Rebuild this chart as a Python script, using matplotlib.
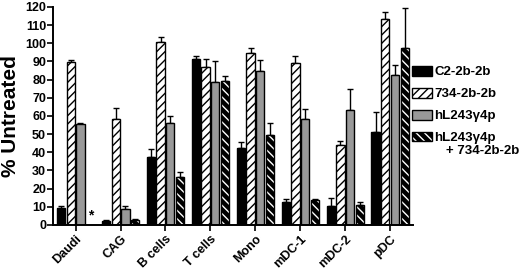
import numpy as np
import matplotlib.pyplot as plt
import matplotlib as mpl
from matplotlib.legend_handler import HandlerTuple

plt.rcParams['font.family'] = ['Liberation Sans', 'DejaVu Sans']
plt.rcParams['font.weight'] = 'bold'
plt.rcParams['hatch.linewidth'] = 1.0

# 数据
groups = ['Daudi', 'CAG', 'B cells', 'T cells', 'Mono', 'mDC-1', 'mDC-2', 'pDC']
series = ['C2-2b-2b', '734-2b-2b', 'hL243\u03b34p', 'hL243\u03b34p']
combo_line2 = '+ 734-2b-2b'

c2_vals = [9.4, 2.2, 37.5, 91.3, 42.2, 12.4, 10.5, 51.0]
c2_err = [1.2, 0.4, 4.5, 1.8, 3.5, 1.8, 4.5, 11.0]
v734_vals = [89.8, 58.3, 100.8, 87.2, 94.8, 89.2, 44.2, 113.2]
v734_err = [1.0, 5.8, 2.8, 4.0, 2.8, 4.0, 2.0, 4.0]
hl_vals = [55.6, 8.6, 56.0, 78.8, 84.8, 58.2, 63.2, 82.6]
hl_err = [0.4, 2.0, 3.8, 11.6, 6.2, 5.8, 11.8, 5.2]
combo_vals = [np.nan, 2.8, 26.2, 79.4, 49.6, 13.6, 10.8, 97.6]
combo_err = [np.nan, 0.3, 3.2, 2.6, 6.6, 0.8, 1.9, 22.0]

values = [c2_vals, v734_vals, hl_vals, combo_vals]
errors = [c2_err, v734_err, hl_err, combo_err]
faces = ['black', 'white', '#999999', 'black']
hatches = [None, '////', None, '\\\\\\\\']
hatch_cols = ['black', 'black', 'black', 'white']

fig = plt.figure(figsize=(5.2, 2.77), dpi=100)
ax = fig.add_axes([0.102, 0.188, 0.692, 0.787])

x = np.arange(len(groups))
w = 0.18
step = 0.22
for i in range(4):
    pos = x + (i - 1.5) * step
    ax.bar(pos, values[i], width=w, color=faces[i], edgecolor=hatch_cols[i],
           hatch=hatches[i], linewidth=0, zorder=2)
    # 黑色边框
    ax.bar(pos, values[i], width=w, fill=False, edgecolor='black', linewidth=1.0, zorder=3)
    ax.errorbar(pos, values[i], yerr=[np.zeros(len(groups)), errors[i]], fmt='none',
                ecolor='black', elinewidth=1.0, capsize=2.2, capthick=1.0, zorder=1)

# Daudi 未测
ax.text(x[0] + 1.5 * step, 1.5, '*', ha='center', va='bottom', fontsize=10, fontweight='bold')

ax.set_xlim(-0.5, len(groups) - 0.5)
ax.set_ylim(0, 120)
ax.set_yticks(np.arange(0, 121, 10))
ax.set_xticks(x)
ax.set_xticklabels(groups, rotation=45, ha='right', rotation_mode='anchor', fontsize=9)
ax.tick_params(axis='y', labelsize=9, length=4, width=1.2, pad=1)
ax.tick_params(axis='x', length=4, width=1.2, pad=2)
for s in ['top', 'right']:
    ax.spines[s].set_visible(False)
for s in ['left', 'bottom']:
    ax.spines[s].set_linewidth(1.4)
ax.set_ylabel('% Untreated', fontsize=15, fontweight='bold', labelpad=4)

handles = []
for i in range(4):
    fillp = mpl.patches.Patch(facecolor=faces[i], edgecolor=hatch_cols[i], hatch=hatches[i], linewidth=0)
    edgep = mpl.patches.Patch(fill=False, edgecolor='black', linewidth=1.0)
    handles.append((fillp, edgep))
leg = fig.legend(handles, series, loc='upper left', bbox_to_anchor=(412 / 520, 1 - 66 / 277),
                 frameon=False, fontsize=9.5, handlelength=1.5, handleheight=0.75,
                 handletextpad=0.2, labelspacing=0.72, borderaxespad=0, borderpad=0,
                 handler_map={tuple: HandlerTuple(ndivide=1, pad=0)})
fig.text(446 / 520, 1 - 151 / 277, combo_line2, fontsize=9.5, fontweight='bold', va='center', ha='left')

fig.savefig('out.png', dpi=100)
